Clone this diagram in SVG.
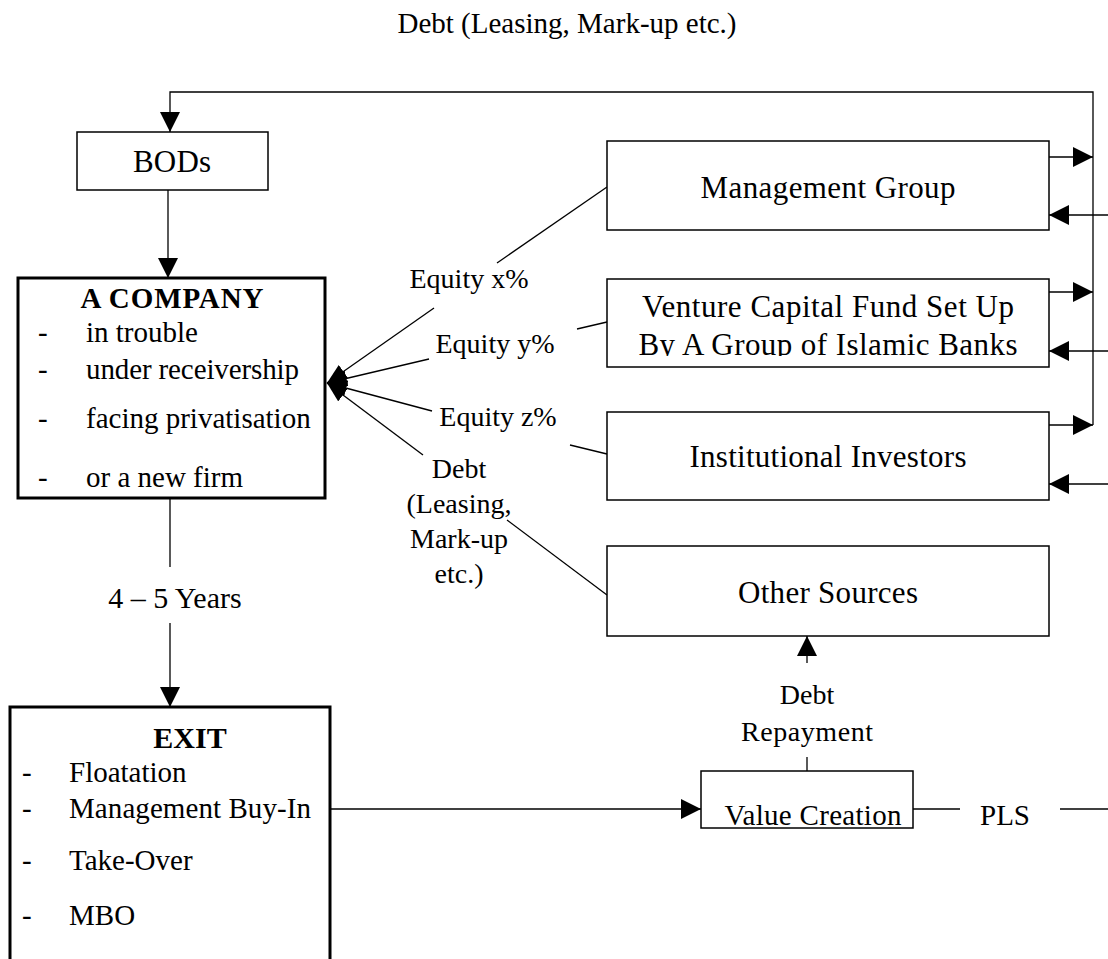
<svg xmlns="http://www.w3.org/2000/svg" width="1108" height="959" viewBox="0 0 1108 959">
<style>
text { font-family: "Liberation Serif", "Times New Roman", serif; fill: #000; }
.t30 { font-size: 30px; }
.t28 { font-size: 28px; }
.t29 { font-size: 29px; }
.b { font-weight: bold; }
.box { fill: #fff; stroke: #000; stroke-width: 1.5; }
.thick { fill: #fff; stroke: #000; stroke-width: 3; }
.ln { fill: none; stroke: #000; stroke-width: 1.3; }
</style>
<defs>
<marker id="ah" markerWidth="20" markerHeight="20" refX="20" refY="10" orient="auto" markerUnits="userSpaceOnUse"><path d="M0,0 L20,10 L0,20 z" fill="#000"/></marker>
<marker id="ahs" markerWidth="20" markerHeight="16" refX="20" refY="8" orient="auto" markerUnits="userSpaceOnUse"><path d="M0,0 L20,8 L0,16 z" fill="#000"/></marker>
<clipPath id="vclip"><rect x="607" y="279" width="442" height="77"/></clipPath>
</defs>
<rect width="1108" height="959" fill="#fff"/>

<text id="toplabel" x="567" y="33" text-anchor="middle" font-size="29">Debt (Leasing, Mark-up etc.)</text>

<g id="connectors">
  <path class="ln" d="M1093,425 L1093,92 L170,92 L170,132" marker-end="url(#ah)"/>
  <path class="ln" d="M1049,157 L1093,157" marker-end="url(#ah)"/>
  <path class="ln" d="M1049,292 L1093,292" marker-end="url(#ah)"/>
  <path class="ln" d="M1049,425 L1093,425" marker-end="url(#ah)"/>
  <path class="ln" d="M1108,215 L1049,215" marker-end="url(#ah)"/>
  <path class="ln" d="M1108,351 L1049,351" marker-end="url(#ah)"/>
  <path class="ln" d="M1108,484 L1049,484" marker-end="url(#ah)"/>
  <path class="ln" d="M168,190 L168,278" marker-end="url(#ah)"/>
  <path class="ln" d="M170,498 L170,567"/>
  <path class="ln" d="M170,623 L170,707" marker-end="url(#ah)"/>
  <path class="ln" d="M330,809 L701,809" marker-end="url(#ah)"/>
  <path class="ln" d="M913,809 L960,809"/>
  <path class="ln" d="M1060,809 L1108,809"/>
  <path class="ln" d="M807,771 L807,757"/>
  <path class="ln" d="M807,663 L807,636" marker-end="url(#ah)"/>
  <path class="ln" d="M434,308 L327,383" marker-end="url(#ahs)"/>
  <path class="ln" d="M429,359 L327,383" marker-end="url(#ahs)"/>
  <path class="ln" d="M432,411 L327,383" marker-end="url(#ahs)"/>
  <path class="ln" d="M423,455 L327,383" marker-end="url(#ahs)"/>
  <path class="ln" d="M497,263 L607,187"/>
  <path class="ln" d="M577,329 L607,322"/>
  <path class="ln" d="M570,445 L607,454"/>
  <path class="ln" d="M507,520 L607,595"/>
</g>

<g id="labels">
  <text class="t28" x="469" y="288" text-anchor="middle">Equity x%</text>
  <text class="t28" x="495" y="353" text-anchor="middle">Equity y%</text>
  <text class="t28" x="498" y="426" text-anchor="middle">Equity z%</text>
  <text class="t28" x="459" y="478" text-anchor="middle">Debt</text>
  <text class="t28" x="459" y="513" text-anchor="middle">(Leasing,</text>
  <text class="t28" x="459" y="548" text-anchor="middle">Mark-up</text>
  <text class="t28" x="459" y="583" text-anchor="middle">etc.)</text>
  <text class="t30" x="175" y="608" text-anchor="middle">4 – 5 Years</text>
  <text class="t28" x="807" y="704" text-anchor="middle">Debt</text>
  <text class="t28" x="807" y="741" text-anchor="middle" textLength="132">Repayment</text>
  <text class="t29" x="1005" y="825" text-anchor="middle">PLS</text>
</g>

<g id="bods">
  <rect class="box" x="77" y="132" width="191" height="58"/>
  <text x="172" y="172" text-anchor="middle" font-size="31" textLength="78">BODs</text>
</g>

<g id="company">
  <rect class="thick" x="18" y="278" width="307" height="220"/>
  <text class="t29 b" x="172" y="308" text-anchor="middle" textLength="183">A  COMPANY</text>
  <text class="t29" x="38" y="342">-</text><text class="t29" x="86" y="342">in trouble</text>
  <text class="t29" x="38" y="379">-</text><text class="t29" x="86" y="379" textLength="213">under receivership</text>
  <text class="t29" x="38" y="428">-</text><text class="t29" x="86" y="428">facing privatisation</text>
  <text class="t29" x="38" y="487">-</text><text class="t29" x="86" y="487">or a new firm</text>
</g>

<g id="exit">
  <rect class="thick" x="10" y="707" width="320" height="300"/>
  <text class="t30 b" x="190" y="748" text-anchor="middle">EXIT</text>
  <text class="t29" x="22" y="782">-</text><text class="t29" x="69" y="782">Floatation</text>
  <text class="t29" x="22" y="818">-</text><text class="t29" x="69" y="818" textLength="242">Management Buy-In</text>
  <text class="t29" x="22" y="870">-</text><text class="t29" x="69" y="870">Take-Over</text>
  <text class="t29" x="22" y="925">-</text><text class="t29" x="69" y="925">MBO</text>
</g>

<g id="management">
  <rect class="box" x="607" y="141" width="442" height="89"/>
  <text x="828" y="198" text-anchor="middle" font-size="31" textLength="255">Management Group</text>
</g>

<g id="venture">
  <rect class="box" x="607" y="279" width="442" height="88"/>
  <g clip-path="url(#vclip)">
    <text x="828" y="317" text-anchor="middle" font-size="31" textLength="372">Venture Capital Fund Set Up</text>
    <text x="828" y="355" text-anchor="middle" font-size="31" textLength="379">By A Group of Islamic Banks</text>
  </g>
</g>

<g id="institutional">
  <rect class="box" x="607" y="412" width="442" height="88"/>
  <text x="828" y="467" text-anchor="middle" font-size="31" textLength="277">Institutional Investors</text>
</g>

<g id="other">
  <rect class="box" x="607" y="546" width="442" height="90"/>
  <text x="828" y="603" text-anchor="middle" font-size="31" textLength="180">Other Sources</text>
</g>

<g id="value">
  <rect class="box" x="701" y="771" width="212" height="57"/>
  <text x="813" y="825" text-anchor="middle" font-size="29" textLength="177">Value Creation</text>
</g>
</svg>
